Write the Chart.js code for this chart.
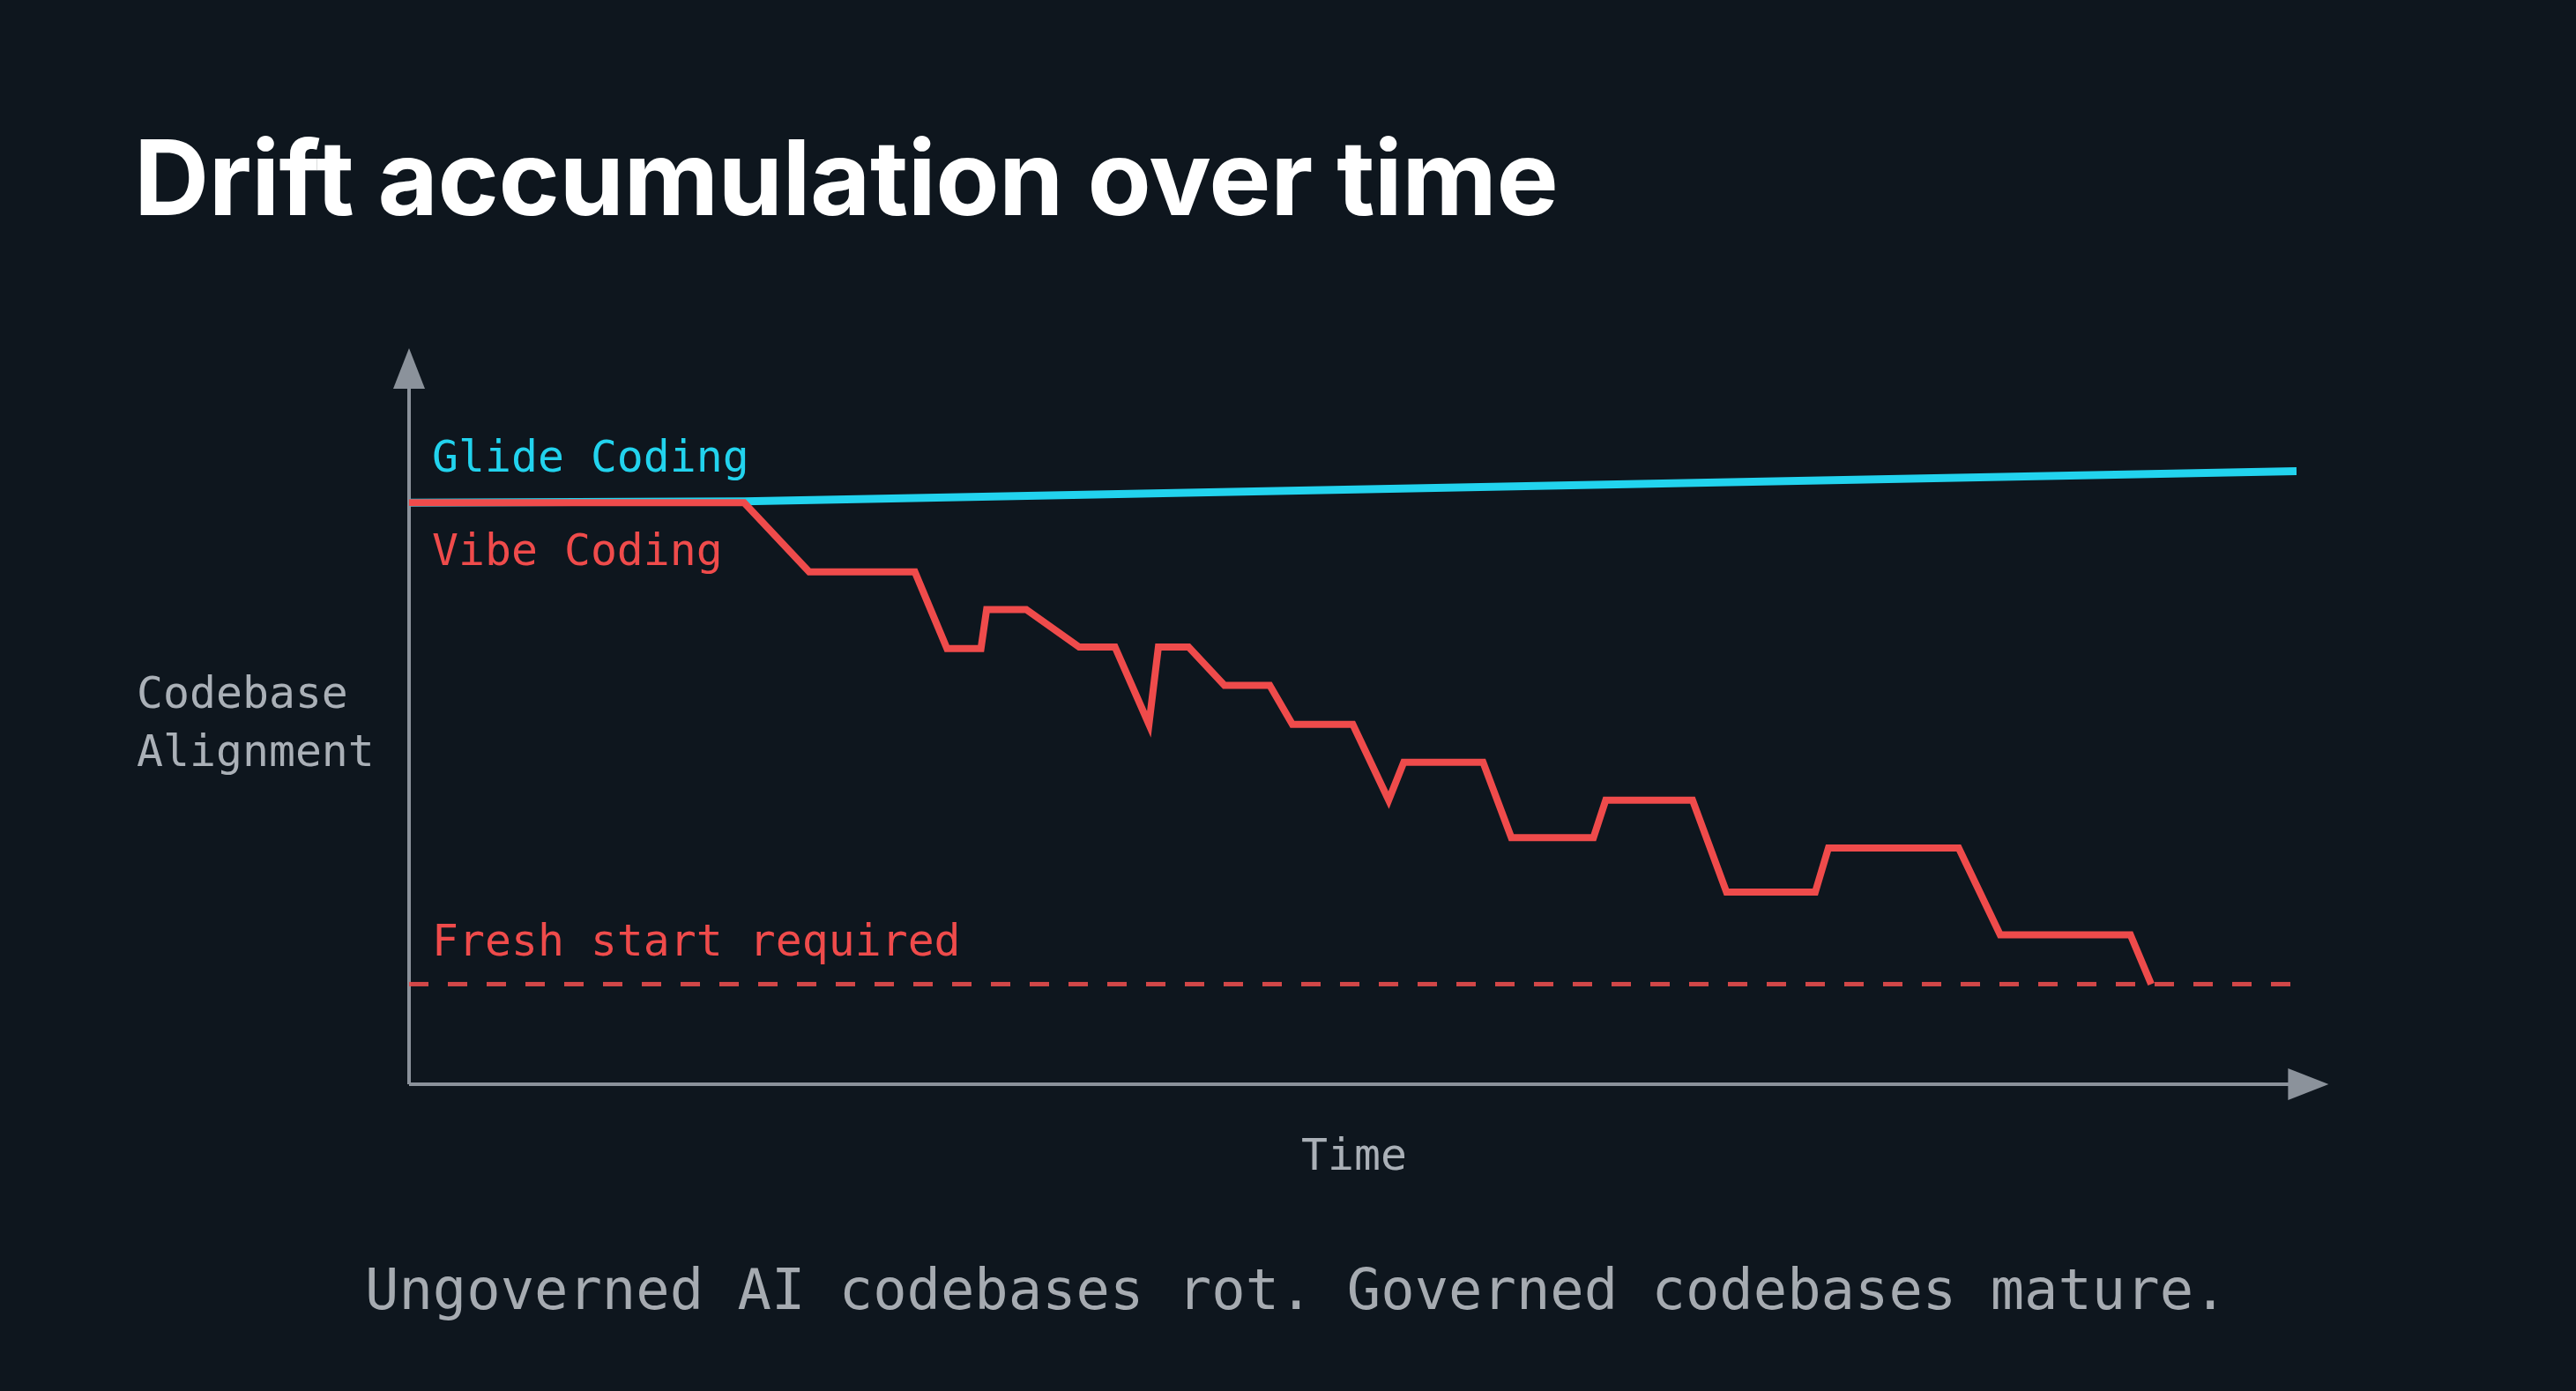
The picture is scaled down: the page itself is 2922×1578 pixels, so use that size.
<!DOCTYPE html>
<html>
<head>
<meta charset="utf-8">
<title>Drift accumulation over time</title>
<script src="https://cdn.jsdelivr.net/npm/chart.js@4.4.1/dist/chart.umd.min.js"></script>
<style>
  html, body { margin: 0; padding: 0; background: #0e161e; overflow: hidden; }
  #wrap { position: relative; width: 2922px; height: 1578px; }
  #chart { position: absolute; left: 0; top: 0; }
  h1 {
    position: absolute; left: 152px; top: 142px; margin: 0;
    font-family: Inter, "Noto Sans", sans-serif; font-weight: 700;
    font-size: 118px; letter-spacing: -0.5px; color: #ffffff; line-height: 1;
  }
  .caption {
    position: absolute; left: 414px; top: 1432px; margin: 0;
    font-family: "DejaVu Sans Mono", monospace; font-size: 63.8px;
    color: #a6abb1; line-height: 1; white-space: pre;
  }
</style>
</head>
<body>
<div id="wrap">
  <canvas id="chart" width="2922" height="1578"></canvas>
  <h1>Drift accumulation over time</h1>
  <div class="caption">Ungoverned AI codebases rot. Governed codebases mature.</div>
</div>
<script>
// time runs 0..100 along the x axis, alignment 0..100 up the y axis
const glideTimes = [0, 17.75, 100];
const glideValues = [79.0, 79.2, 83.3];

const vibeTimes = [0, 17.75, 21.2, 26.8, 28.5, 30.3, 30.6, 32.7, 35.5, 37.4, 39.2, 39.7, 41.3,
  43.2, 45.6, 46.8, 50.0, 51.9, 52.7, 56.9, 58.4, 62.75, 63.4, 68.0, 69.8, 74.5, 75.2, 82.1,
  84.3, 91.2, 92.3];
const vibeValues = [79.0, 79.0, 69.6, 69.6, 59.2, 59.2, 64.5, 64.5, 59.4, 59.4, 48.9, 59.4, 59.4,
  54.2, 54.2, 48.9, 48.9, 38.6, 43.75, 43.75, 33.5, 33.5, 38.6, 38.6, 26.1, 26.1, 32.1, 32.1,
  20.3, 20.3, 13.6];

const thresholdTimes = [0, 100];
const thresholdValue = 13.6;

const labelGlide = 'Glide Coding';
const labelVibe = 'Vibe Coding';
const labelThreshold = 'Fresh start required';
const axisY = ['Codebase', 'Alignment'];
const axisX = 'Time';

const cyan = '#22d3ee';
const red = '#ef4b4b';
const grey = '#8b929b';
const textGrey = '#aab0b7';
const mono = '"DejaVu Sans Mono", monospace';

function points(xs, ys) {
    return xs.map((x, i) => ({ x: x, y: ys[i] }));
}

// axes with arrow heads and the text labels inside the plot
const decorations = {
    id: 'decorations',
    beforeDatasetsDraw(chart) {
        const ctx = chart.ctx;
        const xs = chart.scales.x, ys = chart.scales.y;
        const x0 = xs.getPixelForValue(0);
        const y0 = ys.getPixelForValue(0);
        const yTop = ys.getPixelForValue(100);
        const xEnd = xs.getPixelForValue(101.7);

        ctx.save();
        ctx.strokeStyle = grey;
        ctx.fillStyle = grey;
        ctx.lineWidth = 4;
        ctx.beginPath();
        ctx.moveTo(x0, y0);
        ctx.lineTo(x0, yTop + 40);
        ctx.moveTo(x0, y0);
        ctx.lineTo(xEnd - 40, y0);
        ctx.stroke();

        ctx.beginPath();
        ctx.moveTo(x0, yTop);
        ctx.lineTo(x0 - 18, yTop + 46);
        ctx.lineTo(x0 + 18, yTop + 46);
        ctx.closePath();
        ctx.fill();

        ctx.beginPath();
        ctx.moveTo(xEnd, y0);
        ctx.lineTo(xEnd - 46, y0 - 18);
        ctx.lineTo(xEnd - 46, y0 + 18);
        ctx.closePath();
        ctx.fill();

        ctx.font = '49.8px ' + mono;
        ctx.textBaseline = 'middle';
        ctx.textAlign = 'left';
        ctx.fillStyle = cyan;
        ctx.fillText(labelGlide, x0 + 26, ys.getPixelForValue(glideValues[0]) - 48);
        ctx.fillStyle = red;
        ctx.fillText(labelVibe, x0 + 26, ys.getPixelForValue(vibeValues[0]) + 58);
        ctx.fillText(labelThreshold, x0 + 26, ys.getPixelForValue(thresholdValue) - 45);

        ctx.fillStyle = textGrey;
        ctx.fillText(axisY[0], 155, 790);
        ctx.fillText(axisY[1], 155, 856);
        ctx.textAlign = 'center';
        ctx.fillText(axisX, 1536, 1314);
        ctx.restore();
    }
};

new Chart(document.getElementById('chart'), {
    type: 'line',
    data: {
        datasets: [
            {
                label: labelVibe,
                data: points(vibeTimes, vibeValues),
                borderColor: red,
                borderWidth: 8,
                borderJoinStyle: 'miter',
                pointRadius: 0
            },
            {
                label: labelGlide,
                data: points(glideTimes, glideValues),
                borderColor: cyan,
                borderWidth: 9,
                pointRadius: 0
            },
            {
                label: labelThreshold,
                data: points(thresholdTimes, [thresholdValue, thresholdValue]),
                borderColor: 'rgba(232, 76, 76, 0.9)',
                borderWidth: 5,
                borderDash: [22, 22],
                pointRadius: 0
            }
        ]
    },
    options: {
        responsive: false,
        animation: false,
        layout: { padding: { left: 464, right: 317, top: 395, bottom: 348 } },
        scales: {
            x: { type: 'linear', min: 0, max: 100, display: false },
            y: { type: 'linear', min: 0, max: 100, display: false }
        },
        plugins: {
            legend: { display: false },
            tooltip: { enabled: false }
        }
    },
    plugins: [decorations]
});
</script>
</body>
</html>
